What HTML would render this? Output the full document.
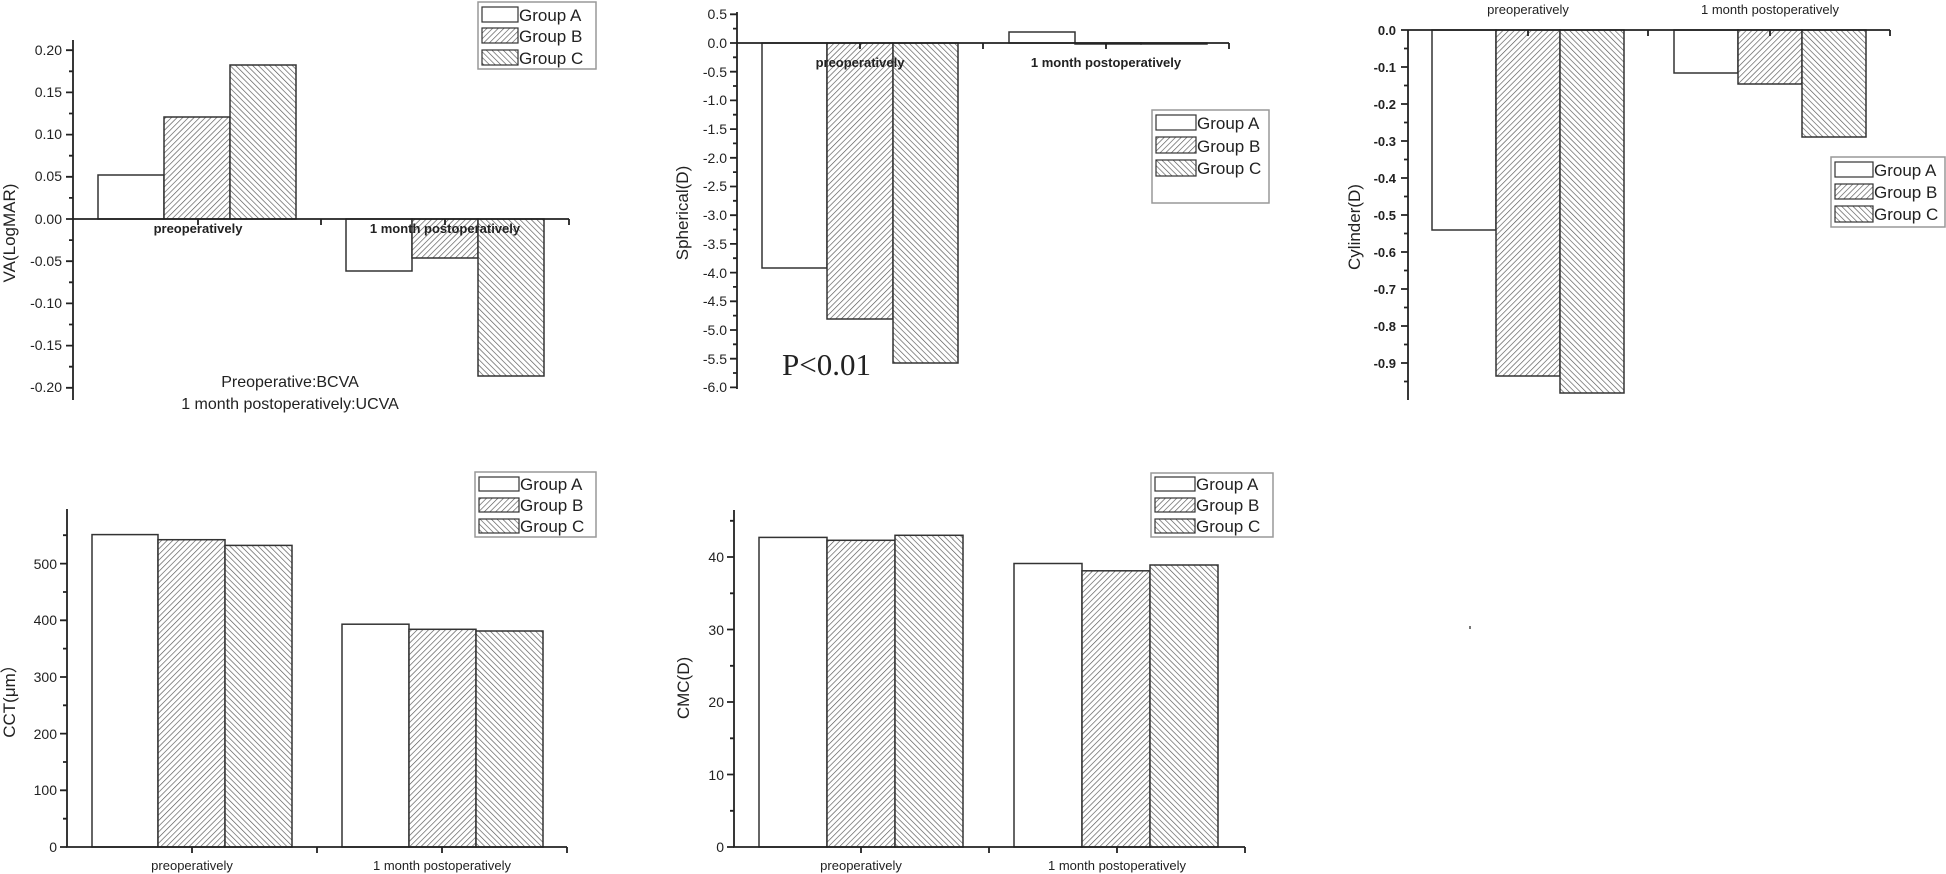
<!DOCTYPE html>
<html><head><meta charset="utf-8"><style>
html,body{margin:0;padding:0;background:#fff}
svg{display:block}
text{font-family:"Liberation Sans",Arial,sans-serif;fill:#222}
</style></head><body>
<svg width="1946" height="874" viewBox="0 0 1946 874" xmlns="http://www.w3.org/2000/svg">
<defs>
<pattern id="hb" patternUnits="userSpaceOnUse" width="4" height="4" patternTransform="rotate(45)">
<rect width="4" height="4" fill="#fff"/><line x1="0" y1="0" x2="0" y2="4" stroke="#555" stroke-width="1.3"/></pattern>
<pattern id="hc" patternUnits="userSpaceOnUse" width="4" height="4" patternTransform="rotate(-45)">
<rect width="4" height="4" fill="#fff"/><line x1="0" y1="0" x2="0" y2="4" stroke="#555" stroke-width="1.3"/></pattern>
</defs>
<g stroke="#333" stroke-width="1.5">
<rect x="98" y="175" width="66" height="44" fill="#fff"/>
<rect x="164" y="117" width="66" height="102" fill="url(#hb)"/>
<rect x="230" y="65" width="66" height="154" fill="url(#hc)"/>
<rect x="346" y="219" width="66" height="52" fill="#fff"/>
<rect x="412" y="219" width="66" height="39" fill="url(#hb)"/>
<rect x="478" y="219" width="66" height="157" fill="url(#hc)"/>
<rect x="762" y="43" width="65" height="225" fill="#fff"/>
<rect x="827" y="43" width="66" height="276" fill="url(#hb)"/>
<rect x="893" y="43" width="65" height="320" fill="url(#hc)"/>
<rect x="1009" y="32" width="66" height="11" fill="#fff"/>
<rect x="1075" y="43" width="66" height="1" fill="url(#hb)"/>
<rect x="1141" y="43" width="66" height="1" fill="url(#hc)"/>
<rect x="1432" y="30" width="64" height="200" fill="#fff"/>
<rect x="1496" y="30" width="64" height="346" fill="url(#hb)"/>
<rect x="1560" y="30" width="64" height="363" fill="url(#hc)"/>
<rect x="1674" y="30" width="64" height="43" fill="#fff"/>
<rect x="1738" y="30" width="64" height="54" fill="url(#hb)"/>
<rect x="1802" y="30" width="64" height="107" fill="url(#hc)"/>
<rect x="92" y="534.6" width="66" height="312.4" fill="#fff"/>
<rect x="158" y="539.7" width="67" height="307.3" fill="url(#hb)"/>
<rect x="225" y="545.4" width="67" height="301.6" fill="url(#hc)"/>
<rect x="342" y="624.2" width="67" height="222.8" fill="#fff"/>
<rect x="409" y="629.3" width="67" height="217.7" fill="url(#hb)"/>
<rect x="476" y="631" width="67" height="216" fill="url(#hc)"/>
<rect x="759" y="537.4" width="68" height="309.6" fill="#fff"/>
<rect x="827" y="540.3" width="68" height="306.7" fill="url(#hb)"/>
<rect x="895" y="535.3" width="68" height="311.7" fill="url(#hc)"/>
<rect x="1014" y="563.5" width="68" height="283.5" fill="#fff"/>
<rect x="1082" y="570.8" width="68" height="276.2" fill="url(#hb)"/>
<rect x="1150" y="565" width="68" height="282" fill="url(#hc)"/>
</g>
<g stroke="#222" stroke-width="1.8" fill="none">
<path d="M73 40V400M73 219H569M198 219v6M321 219v6M445 219v6M569 219v6"/>
<path d="M73 50.2h-7M73 92.4h-7M73 134.6h-7M73 176.8h-7M73 219h-7M73 261.2h-7M73 303.4h-7M73 345.6h-7M73 387.8h-7M73 71.3h-4M73 113.5h-4M73 155.7h-4M73 197.9h-4M73 240.1h-4M73 282.3h-4M73 324.5h-4M73 366.7h-4"/>
<path d="M737 12V389M737 43H1229M860 43v6M983 43v6M1106 43v6M1229 43v6"/>
<path d="M737 14.3h-7M737 43h-7M737 71.7h-7M737 100.4h-7M737 129.1h-7M737 157.8h-7M737 186.5h-7M737 215.2h-7M737 243.9h-7M737 272.6h-7M737 301.3h-7M737 330h-7M737 358.7h-7M737 387.4h-7M737 28.6h-4M737 57.3h-4M737 86h-4M737 114.7h-4M737 143.4h-4M737 172.1h-4M737 200.8h-4M737 229.5h-4M737 258.2h-4M737 286.9h-4M737 315.6h-4M737 344.3h-4M737 373h-4"/>
<path d="M1408 30V400M1408 30H1890M1528 30v6M1648 30v6M1770 30v6M1890 30v6"/>
<path d="M1408 30h-7M1408 67h-7M1408 104h-7M1408 141h-7M1408 178h-7M1408 215h-7M1408 252h-7M1408 289h-7M1408 326h-7M1408 363h-7M1408 48.5h-4M1408 85.5h-4M1408 122.5h-4M1408 159.5h-4M1408 196.5h-4M1408 233.5h-4M1408 270.5h-4M1408 307.5h-4M1408 344.5h-4M1408 381.5h-4"/>
<path d="M67 509V847H567M192 847v6M317 847v6M442 847v6M567 847v6"/>
<path d="M67 847h-7M67 790.3h-7M67 733.6h-7M67 677h-7M67 620.3h-7M67 563.6h-7M67 818.7h-4M67 762h-4M67 705.3h-4M67 648.6h-4M67 592h-4M67 535.2h-4"/>
<path d="M734 510V847H1245M861 847v6M989 847v6M1117 847v6M1245 847v6"/>
<path d="M734 847h-7M734 774.5h-7M734 702h-7M734 629.5h-7M734 557h-7M734 810.8h-4M734 738.3h-4M734 665.8h-4M734 593.3h-4M734 520.8h-4"/>
</g>
<g font-size="14" text-anchor="end">
<text x="62" y="55">0.20</text><text x="62" y="97">0.15</text><text x="62" y="139">0.10</text><text x="62" y="181">0.05</text><text x="62" y="224">0.00</text><text x="62" y="266">-0.05</text><text x="62" y="308">-0.10</text><text x="62" y="350">-0.15</text><text x="62" y="392">-0.20</text>
<text x="727" y="19">0.5</text><text x="727" y="48">0.0</text><text x="727" y="77">-0.5</text><text x="727" y="105">-1.0</text><text x="727" y="134">-1.5</text><text x="727" y="163">-2.0</text><text x="727" y="191">-2.5</text><text x="727" y="220">-3.0</text><text x="727" y="249">-3.5</text><text x="727" y="278">-4.0</text><text x="727" y="306">-4.5</text><text x="727" y="335">-5.0</text><text x="727" y="364">-5.5</text><text x="727" y="392">-6.0</text>
<text x="57" y="852">0</text><text x="57" y="795">100</text><text x="57" y="739">200</text><text x="57" y="682">300</text><text x="57" y="625">400</text><text x="57" y="569">500</text>
<text x="724" y="852">0</text><text x="724" y="780">10</text><text x="724" y="707">20</text><text x="724" y="635">30</text><text x="724" y="562">40</text>
</g>
<g font-size="13" font-weight="bold" text-anchor="end">
<text x="1396" y="35">0.0</text><text x="1396" y="72">-0.1</text><text x="1396" y="109">-0.2</text><text x="1396" y="146">-0.3</text><text x="1396" y="183">-0.4</text><text x="1396" y="220">-0.5</text><text x="1396" y="257">-0.6</text><text x="1396" y="294">-0.7</text><text x="1396" y="331">-0.8</text><text x="1396" y="368">-0.9</text>
</g>
<g font-size="13" font-weight="bold" text-anchor="middle">
<text x="198" y="233">preoperatively</text><text x="445" y="233">1 month postoperatively</text>
<text x="860" y="67">preoperatively</text><text x="1106" y="67">1 month postoperatively</text>
</g>
<g font-size="13" text-anchor="middle">
<text x="1528" y="14">preoperatively</text><text x="1770" y="14">1 month postoperatively</text>
<text x="192" y="870">preoperatively</text><text x="442" y="870">1 month postoperatively</text>
<text x="861" y="870">preoperatively</text><text x="1117" y="870">1 month postoperatively</text>
</g>
<g font-size="17" text-anchor="middle">
<text transform="translate(15,233) rotate(-90)">VA(LogMAR)</text>
<text transform="translate(688,213) rotate(-90)">Spherical(D)</text>
<text transform="translate(1360,227) rotate(-90)">Cylinder(D)</text>
<text transform="translate(15,697) rotate(-90)">CCT(μm）</text>
<text transform="translate(689,688) rotate(-90)">CMC(D)</text>
</g>
<g font-size="16" text-anchor="middle">
<text x="290" y="387">Preoperative:BCVA</text>
<text x="290" y="409">1 month postoperatively:UCVA</text>
</g>
<text x="782" y="375" style="font-family:'Liberation Serif',serif;font-size:31px">P&lt;0.01</text>
<g font-size="17">
<g>
<rect x="478" y="2" width="118" height="67" fill="#fff" stroke="#999" stroke-width="1.5"/>
<rect x="482" y="7" width="36" height="15" fill="#fff" stroke="#333" stroke-width="1.2"/>
<rect x="482" y="28" width="36" height="15" fill="url(#hb)" stroke="#333" stroke-width="1.2"/>
<rect x="482" y="50" width="36" height="15" fill="url(#hc)" stroke="#333" stroke-width="1.2"/>
<text x="519" y="21">Group A</text><text x="519" y="42">Group B</text><text x="519" y="64">Group C</text>
</g>
<g>
<rect x="1152" y="110" width="117" height="93" fill="#fff" stroke="#999" stroke-width="1.5"/>
<rect x="1156" y="115" width="40" height="15" fill="#fff" stroke="#333" stroke-width="1.2"/>
<rect x="1156" y="137" width="40" height="16" fill="url(#hb)" stroke="#333" stroke-width="1.2"/>
<rect x="1156" y="160" width="40" height="16" fill="url(#hc)" stroke="#333" stroke-width="1.2"/>
<text x="1197" y="129">Group A</text><text x="1197" y="152">Group B</text><text x="1197" y="174">Group C</text>
</g>
<g>
<rect x="1831" y="157" width="114" height="70" fill="#fff" stroke="#999" stroke-width="1.5"/>
<rect x="1835" y="162" width="38" height="15" fill="#fff" stroke="#333" stroke-width="1.2"/>
<rect x="1835" y="184" width="38" height="15" fill="url(#hb)" stroke="#333" stroke-width="1.2"/>
<rect x="1835" y="206" width="38" height="16" fill="url(#hc)" stroke="#333" stroke-width="1.2"/>
<text x="1874" y="176">Group A</text><text x="1874" y="198">Group B</text><text x="1874" y="220">Group C</text>
</g>
<g>
<rect x="475" y="472" width="121" height="65" fill="#fff" stroke="#999" stroke-width="1.5"/>
<rect x="479" y="477" width="40" height="14" fill="#fff" stroke="#333" stroke-width="1.2"/>
<rect x="479" y="498" width="40" height="14" fill="url(#hb)" stroke="#333" stroke-width="1.2"/>
<rect x="479" y="519" width="40" height="14" fill="url(#hc)" stroke="#333" stroke-width="1.2"/>
<text x="520" y="490">Group A</text><text x="520" y="511">Group B</text><text x="520" y="532">Group C</text>
</g>
<g>
<rect x="1151" y="473" width="122" height="64" fill="#fff" stroke="#999" stroke-width="1.5"/>
<rect x="1155" y="477" width="40" height="14" fill="#fff" stroke="#333" stroke-width="1.2"/>
<rect x="1155" y="498" width="40" height="14" fill="url(#hb)" stroke="#333" stroke-width="1.2"/>
<rect x="1155" y="519" width="40" height="14" fill="url(#hc)" stroke="#333" stroke-width="1.2"/>
<text x="1196" y="490">Group A</text><text x="1196" y="511">Group B</text><text x="1196" y="532">Group C</text>
</g>
</g>
<rect x="1469" y="626" width="2" height="3" fill="#777"/>
</svg>
</body></html>
